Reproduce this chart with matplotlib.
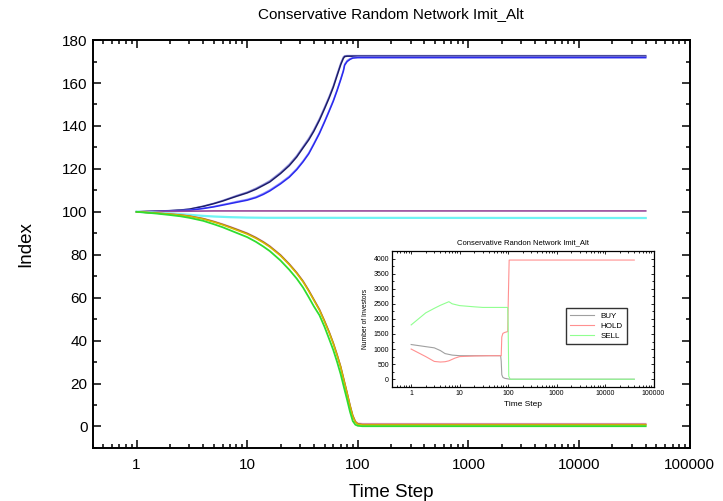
import matplotlib
matplotlib.use("Agg")
import matplotlib.pyplot as plt
from matplotlib.ticker import FixedLocator, MultipleLocator, LogLocator, FuncFormatter, NullFormatter

plt.rcParams['font.family'] = ['Liberation Sans', 'DejaVu Sans']

# Main index series (time step -> index value)
t_up = [1, 1.5, 2, 2.5, 3, 4, 5, 6, 7, 8, 10, 12, 14, 16, 20, 24, 28, 32, 36, 40,
        45, 50, 55, 60, 65, 70, 74, 76, 80, 85, 90, 100, 40000]
navy = [100, 100.3, 100.5, 100.8, 101.2, 102.5, 103.8, 105, 106.2, 107.2, 108.8, 110.5,
        112.3, 113.9, 117.8, 121.5, 125.5, 129.8, 133.5, 137.5, 142.7, 148, 153, 158,
        163.5, 168.5, 171.5, 172.3, 172.5, 172.5, 172.5, 172.5, 172.5]
slate = [100, 100.3, 100.6, 100.9, 101.3, 102.7, 104, 105.3, 106.5, 107.6, 109.2, 111,
         112.8, 114.5, 118.4, 122.2, 126.2, 130.5, 134.3, 138.3, 143.5, 148.8, 153.8, 158.8,
         164.3, 169.3, 172.2, 172.7, 172.8, 172.8, 172.8, 172.8, 172.8]
blue = [100, 100.1, 100.3, 100.5, 100.7, 101.5, 102.3, 103.1, 103.8, 104.4, 105.4, 106.6,
        108.1, 109.7, 113, 116.1, 119.6, 123.3, 127, 131.4, 136.5, 141.8, 146.8, 151.5,
        156.5, 161.5, 165.5, 168.3, 170, 171, 171.6, 171.8, 171.8]
ltblue = [100, 100.1, 100.3, 100.6, 100.8, 101.7, 102.5, 103.4, 104.1, 104.8, 105.8, 107,
          108.6, 110.2, 113.5, 116.6, 120.1, 123.8, 127.5, 131.9, 137, 142.3, 147.3, 152,
          157, 162, 166, 168.8, 170.5, 171.4, 171.9, 172.1, 172.1]
t_purple = [1, 2, 5, 40000]
purple = [100, 100.2, 100.4, 100.4]
t_cyan = [1, 1.5, 2, 3, 4, 5, 7, 10, 15, 40000]
cyan = [100, 99.6, 99.2, 98.6, 98.1, 97.8, 97.5, 97.3, 97.2, 97.1]
t_down = [1, 1.5, 2, 2.5, 3, 4, 5, 6, 7, 8, 10, 12, 14, 16, 20, 24, 28, 32, 36, 40,
          45, 50, 55, 60, 65, 70, 75, 80, 85, 90, 95, 100, 110, 40000]
olive = [100, 99.4, 98.9, 98.4, 97.9, 96.6, 95.2, 93.9, 92.6, 91.5, 89.6, 87.6, 85.6, 83.6,
         79.5, 75.3, 71.3, 67.3, 63, 58.8, 54.1, 48.8, 43.7, 38.5, 33, 27.5, 21.2, 15.3,
         9.5, 4.7, 2, 1, 0.7, 0.7]
brown = [100, 99.4, 98.9, 98.5, 98, 96.8, 95.4, 94.1, 92.9, 91.8, 89.9, 87.9, 85.9, 83.9,
         79.8, 75.6, 71.6, 67.6, 63.3, 59.1, 54.4, 49.1, 44, 38.8, 33.3, 27.8, 21.5, 15.6,
         9.8, 5, 2.2, 1.2, 0.9, 0.9]
pink = [100, 99.5, 99, 98.6, 98.1, 96.9, 95.6, 94.3, 93.1, 92, 90.1, 88.1, 86.1, 84.1,
        80, 75.8, 71.8, 67.8, 63.5, 59.3, 54.6, 49.3, 44.2, 39, 33.5, 28, 21.7, 15.8,
        10, 5.2, 2.4, 1.5, 1.3, 1.3]
green = [100, 99.2, 98.5, 97.9, 97.2, 95.8, 94.2, 92.8, 91.4, 90.2, 88.2, 86, 83.8, 81.7,
         77.3, 73, 68.9, 64.7, 60.2, 56, 51.8, 46.4, 40.8, 35.6, 30, 24.3, 18.1, 12.4,
         6.8, 2.5, 0.8, 0.3, 0.1, 0.1]

# Investor counts for the inset
t_buy = [1, 2, 3, 4, 5, 7, 10, 20, 40, 70, 72, 74, 78, 85, 100, 110, 40000]
buy = [1150, 1080, 1040, 950, 850, 800, 780, 780, 780, 780, 600, 150, 60, 30, 10, 0, 0]
t_hold = [1, 2, 3, 4, 5, 6, 8, 10, 20, 40, 72, 74, 78, 85, 98, 100, 105, 40000]
hold = [1000, 750, 590, 570, 580, 610, 700, 750, 770, 780, 780, 1400, 1520, 1550, 1580, 2400, 3950, 3950]
t_sell = [1, 2, 3, 4, 6, 7, 10, 20, 30, 98, 100, 103, 110, 40000]
sell = [1800, 2200, 2350, 2450, 2570, 2500, 2440, 2400, 2380, 2380, 1800, 100, 0, 0]

fig = plt.figure(figsize=(7.23, 5.01), dpi=100)
ax = fig.add_axes([0.128, 0.106, 0.826, 0.814])

ax.plot(t_up, slate, color='#9090dd', lw=1.0)
ax.plot(t_up, navy, color='#1c1c6a', lw=1.1)
ax.plot(t_up, ltblue, color='#9090ff', lw=1.0)
ax.plot(t_up, blue, color='#2a2aee', lw=1.1)
ax.plot(t_purple, purple, color='#9a4a9a', lw=1.2)
ax.plot(t_cyan, cyan, color='#70f4f4', lw=1.6)
ax.plot(t_down, pink, color='#f0a0c8', lw=1.1)
ax.plot(t_down, brown, color='#8a6a20', lw=1.1)
ax.plot(t_down, olive, color='#d8b800', lw=1.1)
ax.plot(t_down, green, color='#30dd30', lw=1.3)

def plain(v, pos):
    return f'{v:.0f}' if v >= 1 else ''

ax.set_xscale('log')
ax.set_xlim(0.4, 1e5)
ax.set_ylim(-10, 180)
ax.xaxis.set_major_locator(FixedLocator([1, 10, 100, 1000, 10000, 100000]))
ax.xaxis.set_major_formatter(FuncFormatter(plain))
ax.xaxis.set_minor_locator(LogLocator(base=10, subs=range(2, 10), numticks=20))
ax.xaxis.set_minor_formatter(NullFormatter())
ax.yaxis.set_major_locator(MultipleLocator(20))
ax.yaxis.set_minor_locator(MultipleLocator(10))
ax.tick_params(which='both', direction='in', top=True, right=True, width=1.1, labelsize=11)
ax.tick_params(axis='x', pad=7)
ax.tick_params(which='major', length=5.5)
ax.tick_params(which='minor', length=3.2)
for s in ax.spines.values():
    s.set_linewidth(1.4)

ax.set_title('Conservative Random Network Imit_Alt', fontsize=11, pad=16)
ax.set_xlabel('Time Step', fontsize=13.5, labelpad=9)
ax.set_ylabel('Index', fontsize=13.5, labelpad=20)

# Inset: number of investors in each state
ins = fig.add_axes([0.542, 0.228, 0.362, 0.271])
ins.plot(t_buy, buy, color='#a0a0a0', lw=0.8, label='BUY')
ins.plot(t_hold, hold, color='#ff9090', lw=0.8, label='HOLD')
ins.plot(t_sell, sell, color='#90ff90', lw=0.8, label='SELL')
ins.set_xscale('log')
ins.set_xlim(0.4, 1e5)
ins.set_ylim(-250, 4250)
ins.xaxis.set_major_locator(FixedLocator([1, 10, 100, 1000, 10000, 100000]))
ins.xaxis.set_major_formatter(FuncFormatter(plain))
ins.xaxis.set_minor_locator(LogLocator(base=10, subs=range(2, 10), numticks=20))
ins.xaxis.set_minor_formatter(NullFormatter())
ins.yaxis.set_major_locator(MultipleLocator(500))
ins.yaxis.set_minor_locator(MultipleLocator(250))
ins.tick_params(which='both', direction='in', top=True, right=True, width=0.6, labelsize=5, pad=2)
ins.tick_params(which='major', length=2.5)
ins.tick_params(which='minor', length=1.5)
for s in ins.spines.values():
    s.set_linewidth(0.9)
ins.set_title('Conservative Randon Network Imit_Alt', fontsize=5.5, pad=5)
ins.set_xlabel('Time Step', fontsize=6, labelpad=3)
ins.set_ylabel('Number of Investors', fontsize=4.8, labelpad=3)
leg = ins.legend(loc='upper left', bbox_to_anchor=(0.65, 0.61), fontsize=5.8, frameon=True,
                 fancybox=False, edgecolor='black', handlelength=3, borderpad=0.5, labelspacing=0.3)
leg.get_frame().set_linewidth(1.0)

fig.savefig('out.png', dpi=100)
